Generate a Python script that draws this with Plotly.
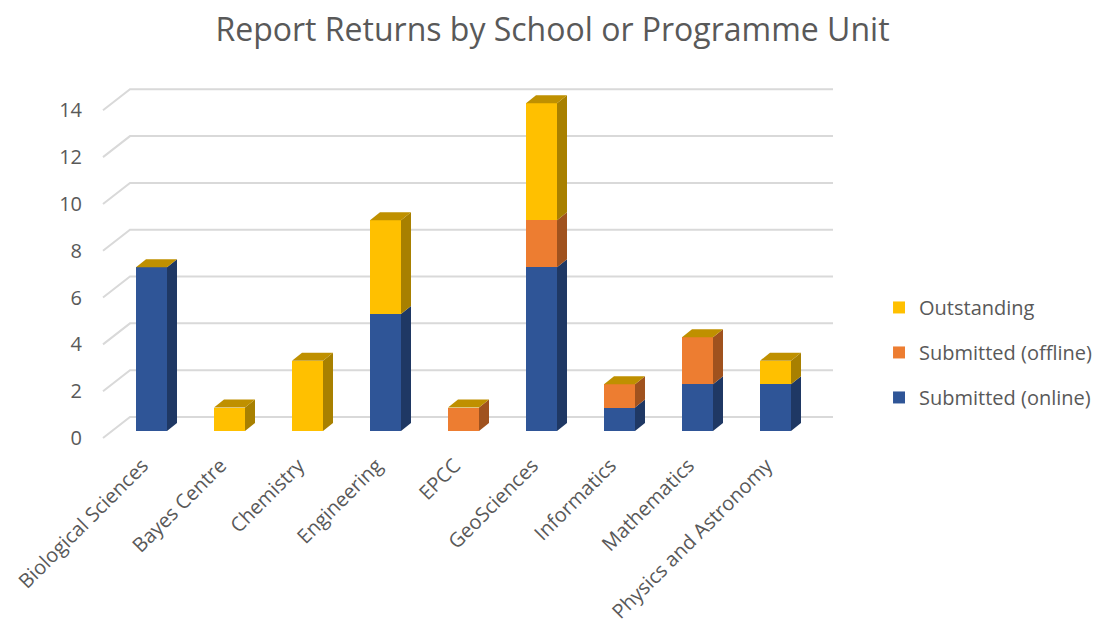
import plotly.graph_objects as go

categories = ["Biological Sciences", "Bayes Centre", "Chemistry", "Engineering", "EPCC",
              "GeoSciences", "Informatics", "Mathematics", "Physics and Astronomy"]
online = [7, 0, 0, 5, 0, 7, 1, 2, 2]
offline = [0, 0, 0, 0, 1, 2, 1, 2, 0]
outstanding = [0, 1, 3, 4, 0, 5, 0, 0, 1]
y_ticks = [0, 2, 4, 6, 8, 10, 12, 14]

series = [
    ("Submitted (online)", online, "#2F5597", "#1F3864", 3),
    ("Submitted (offline)", offline, "#ED7D31", "#A0521E", 2),
    ("Outstanding", outstanding, "#FFC000", "#A88000", 1),
]
top_color = "#BF9000"

# pixel geometry helpers (layout)
W, H = 1105, 626
ML, MR, MT, MB = 90, 260, 60, 181
PX_X = 78.0      # pixels per category
PX_Y = 23.407    # pixels per unit
X0_PIX = 151.5   # pixel of category 0
Y0_PIX = 431.0   # pixel of value 0
xr = [(ML - X0_PIX) / PX_X, (W - MR - X0_PIX) / PX_X]
yr = [(Y0_PIX - (H - MB)) / PX_Y, (Y0_PIX - MT) / PX_Y]

bw = 31 / PX_X
dx, dy = 10 / PX_X, 8 / PX_Y

xs = list(range(len(categories)))
fig = go.Figure()
for name, vals, col, _, rank in series:
    fig.add_trace(go.Bar(x=xs, y=vals, name=name, marker=dict(color=col, line=dict(width=0)),
                         width=bw, legendgroup=name, legendrank=rank,
                         customdata=categories,
                         hovertemplate="%{customdata}<br>" + name + ": %{y}<extra></extra>"))

shapes = []
# 3D back-wall gridlines
gx_front, gx_back, gx_right = (103 - X0_PIX) / PX_X, (130 - X0_PIX) / PX_X, (833 - X0_PIX) / PX_X
off_front, off_back = -7 / PX_Y, 14 / PX_Y
for v in y_ticks:
    shapes.append(dict(type="path", xref="x", yref="y", layer="below",
                       path=f"M {gx_front},{v + off_front} L {gx_back},{v + off_back} L {gx_right},{v + off_back}",
                       line=dict(color="#D9D9D9", width=2)))

# side and top faces
for i in xs:
    base = 0
    for name, vals, col, side, _ in series:
        v = vals[i]
        if v > 0:
            xr_ = i + bw / 2
            shapes.append(dict(type="path", xref="x", yref="y", layer="above",
                               path=f"M {xr_},{base} L {xr_ + dx},{base + dy} L {xr_ + dx},{base + v + dy} L {xr_},{base + v} Z",
                               fillcolor=side, line=dict(width=0)))
        base += v
    xl_ = i - bw / 2
    xr_ = i + bw / 2
    shapes.append(dict(type="path", xref="x", yref="y", layer="above",
                       path=f"M {xl_},{base} L {xl_ + dx},{base + dy} L {xr_ + dx},{base + dy} L {xr_},{base} Z",
                       fillcolor=top_color, line=dict(width=0)))

font = "Open Sans"
fig.update_layout(
    width=W, height=H, margin=dict(l=ML, r=MR, t=MT, b=MB, autoexpand=False),
    barmode="stack", plot_bgcolor="white", paper_bgcolor="white",
    shapes=shapes,
    title=dict(text="Report Returns by School or Programme Unit", x=0.5, xref="container",
               xanchor="center", y=0.952, yref="container", yanchor="middle",
               font=dict(family=font, size=32, color="#595959")),
    xaxis=dict(range=xr, tickmode="array", tickvals=xs, ticktext=categories, tickangle=-45,
               showgrid=False, zeroline=False, showline=False, ticks="", ticklabelstandoff=4,
               ticklabelshift=-9, automargin=False,
               tickfont=dict(family=font, size=20, color="#595959")),
    yaxis=dict(range=yr, tickmode="array", tickvals=y_ticks, showgrid=False, zeroline=False,
               showline=False, ticks="", ticklabelshift=7, ticklabelstandoff=7, automargin=False,
               tickfont=dict(family=font, size=20, color="#595959")),
    legend=dict(x=0.7955, xref="container", xanchor="left", y=0.54, yref="container", yanchor="top",
                traceorder="grouped", tracegroupgap=16,
                font=dict(family=font, size=20, color="#595959")),
    showlegend=True,
)
fig.write_html("out.html")
